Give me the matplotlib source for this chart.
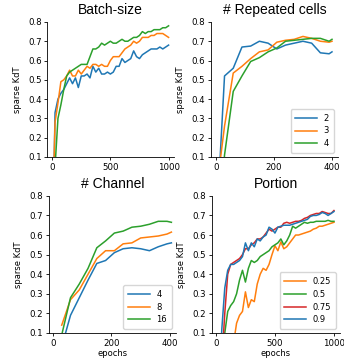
import matplotlib
matplotlib.use("Agg")
import matplotlib.pyplot as plt

# Batch-size panel (no legend in the original)
batch_epochs = list(range(0, 1001, 25))
batch_blue = [-0.5, 0.33, 0.40, 0.43, 0.45, 0.48, 0.51, 0.48, 0.51, 0.46, 0.52, 0.52, 0.53, 0.51,
              0.57, 0.54, 0.56, 0.53, 0.53, 0.54, 0.53, 0.54, 0.57, 0.57, 0.61, 0.59, 0.60, 0.61,
              0.65, 0.62, 0.61, 0.63, 0.64, 0.65, 0.66, 0.66, 0.66, 0.67, 0.66, 0.67, 0.68]
batch_orange = [-0.3, 0.28, 0.38, 0.49, 0.50, 0.52, 0.55, 0.52, 0.52, 0.55, 0.53, 0.55, 0.57, 0.56,
                0.58, 0.58, 0.57, 0.58, 0.57, 0.57, 0.60, 0.62, 0.62, 0.62, 0.64, 0.66, 0.67, 0.68,
                0.70, 0.69, 0.70, 0.72, 0.72, 0.72, 0.73, 0.73, 0.74, 0.74, 0.74, 0.73, 0.72]
batch_green = [-0.6, 0.05, 0.30, 0.37, 0.45, 0.52, 0.54, 0.55, 0.56, 0.57, 0.58, 0.58, 0.58, 0.62,
               0.66, 0.66, 0.67, 0.69, 0.68, 0.69, 0.70, 0.69, 0.69, 0.70, 0.71, 0.70, 0.70, 0.71,
               0.72, 0.72, 0.73, 0.75, 0.74, 0.75, 0.75, 0.76, 0.76, 0.76, 0.77, 0.77, 0.78]

# Repeated cells panel
cells_epochs = [0, 30, 60, 90, 120, 150, 180, 210, 240, 270, 300, 330, 360, 390, 400]
cells_labels = ["2", "3", "4"]
cells_2 = [-0.32, 0.52, 0.56, 0.67, 0.675, 0.70, 0.69, 0.66, 0.68, 0.69, 0.70, 0.69, 0.64, 0.635, 0.645]
cells_3 = [-0.10, 0.26, 0.535, 0.57, 0.61, 0.645, 0.655, 0.695, 0.705, 0.71, 0.725, 0.715, 0.70, 0.695, 0.70]
cells_4 = [-0.50, 0.11, 0.44, 0.52, 0.595, 0.615, 0.645, 0.665, 0.70, 0.705, 0.71, 0.715, 0.715, 0.70, 0.71]

# Channel panel
chan_epochs = [30, 60, 90, 120, 150, 180, 210, 240, 270, 300, 330, 360, 390, 405]
chan_labels = ["4", "8", "16"]
chan_4 = [0.03, 0.19, 0.28, 0.37, 0.455, 0.47, 0.51, 0.53, 0.535, 0.53, 0.52, 0.54, 0.555, 0.56]
chan_8 = [0.14, 0.27, 0.32, 0.40, 0.48, 0.52, 0.52, 0.555, 0.56, 0.585, 0.59, 0.595, 0.605, 0.615]
chan_16 = [0.09, 0.28, 0.35, 0.43, 0.535, 0.57, 0.61, 0.62, 0.64, 0.645, 0.655, 0.67, 0.67, 0.665]

# Portion panel
port_epochs = list(range(0, 1001, 25))
port_labels = ["0.25", "0.5", "0.75", "0.9"]
port_025 = [-1.0, -0.9, -0.8, -0.7, -0.5, -0.3, 0.05, 0.15, 0.19, 0.21, 0.31, 0.23, 0.27, 0.26,
            0.35, 0.40, 0.43, 0.42, 0.45, 0.50, 0.545, 0.52, 0.565, 0.53, 0.54, 0.56, 0.58, 0.60,
            0.60, 0.605, 0.61, 0.615, 0.62, 0.63, 0.635, 0.645, 0.645, 0.65, 0.655, 0.66, 0.665]
port_05 = [-0.6, -0.4, -0.1, 0.10, 0.21, 0.24, 0.26, 0.30, 0.37, 0.42, 0.36, 0.43, 0.47, 0.46,
           0.47, 0.49, 0.50, 0.51, 0.52, 0.54, 0.55, 0.56, 0.58, 0.55, 0.57, 0.60, 0.645, 0.635,
           0.645, 0.655, 0.665, 0.66, 0.665, 0.665, 0.67, 0.67, 0.67, 0.67, 0.675, 0.67, 0.67]
port_075 = [-0.5, -0.3, -0.05, 0.20, 0.40, 0.45, 0.46, 0.47, 0.48, 0.50, 0.53, 0.53, 0.55, 0.56,
            0.58, 0.58, 0.59, 0.61, 0.63, 0.62, 0.63, 0.64, 0.64, 0.66, 0.665, 0.66, 0.665, 0.67,
            0.67, 0.675, 0.685, 0.69, 0.70, 0.705, 0.71, 0.71, 0.72, 0.715, 0.71, 0.71, 0.725]
port_09 = [-0.5, -0.2, 0.12, 0.33, 0.42, 0.45, 0.45, 0.46, 0.47, 0.49, 0.56, 0.52, 0.56, 0.54,
           0.58, 0.57, 0.59, 0.60, 0.64, 0.63, 0.61, 0.64, 0.645, 0.65, 0.65, 0.65, 0.655, 0.66,
           0.665, 0.67, 0.675, 0.68, 0.695, 0.70, 0.70, 0.705, 0.715, 0.71, 0.70, 0.71, 0.72]

blue, orange, green, red = "#1f77b4", "#ff7f0e", "#2ca02c", "#d62728"

fig = plt.figure(figsize=(3.44, 3.6), dpi=100)
ax1 = fig.add_axes([0.137, 0.564, 0.37, 0.375])
ax2 = fig.add_axes([0.613, 0.564, 0.369, 0.375])
ax3 = fig.add_axes([0.142, 0.075, 0.369, 0.381])
ax4 = fig.add_axes([0.616, 0.075, 0.372, 0.381])

ax1.plot(batch_epochs, batch_blue, color=blue, lw=1.1)
ax1.plot(batch_epochs, batch_orange, color=orange, lw=1.1)
ax1.plot(batch_epochs, batch_green, color=green, lw=1.1)
ax1.set_title("Batch-size")
ax1.set_xlim(-43, 1050)
ax1.set_xticks([0, 500, 1000])

for vals, c, lab in zip([cells_2, cells_3, cells_4], [blue, orange, green], cells_labels):
    ax2.plot(cells_epochs, vals, color=c, lw=1.1, label=lab)
ax2.set_title("# Repeated cells")
ax2.set_xlim(-17, 420)
ax2.set_xticks([0, 200, 400])

for vals, c, lab in zip([chan_4, chan_8, chan_16], [blue, orange, green], chan_labels):
    ax3.plot(chan_epochs, vals, color=c, lw=1.1, label=lab)
ax3.set_title("# Channel")
ax3.set_xlim(-14, 420)
ax3.set_xticks([0, 200, 400])

for vals, c, lab in zip([port_025, port_05, port_075, port_09], [orange, green, red, blue], port_labels):
    ax4.plot(port_epochs, vals, color=c, lw=1.1, label=lab)
ax4.set_title("Portion")
ax4.set_xlim(-34, 1050)
ax4.set_xticks([0, 500, 1000])

for ax in [ax1, ax2, ax3, ax4]:
    ax.title.set_fontfamily("Liberation Sans")
    ax.title.set_fontsize(10)
    ax.set_ylim(0.1, 0.8)
    ax.set_yticks([0.1, 0.2, 0.3, 0.4, 0.5, 0.6, 0.7, 0.8])
    ax.tick_params(labelsize=6.2, length=2.5, width=0.6, pad=1.5)
    ax.set_ylabel("sparse KdT", fontsize=6, labelpad=4.5)
    for s in ["top", "right"]:
        ax.spines[s].set_visible(False)
    for s in ["left", "bottom"]:
        ax.spines[s].set_linewidth(0.6)

for ax in [ax3, ax4]:
    ax.set_xlabel("epochs", fontsize=6, labelpad=1)

for ax in [ax2, ax3, ax4]:
    ax.legend(loc="lower right", fontsize=6, handlelength=2.6, labelspacing=0.45,
              borderpad=0.55, frameon=True)

fig.savefig("out.png", dpi=100)
